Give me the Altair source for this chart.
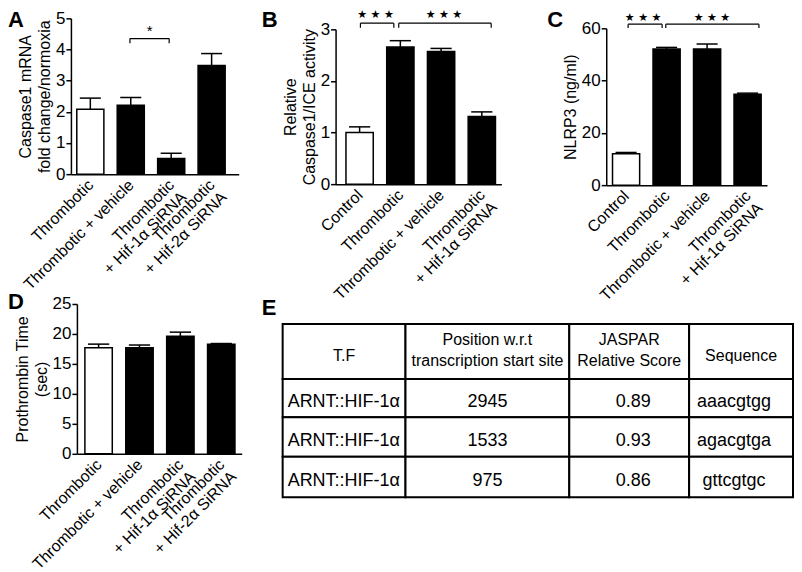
import json
import altair as alt
import pandas as pd

FONT = "Liberation Sans"

# ---------------- data ----------------
a_cats = ["Thrombotic", "Thrombotic + vehicle", "Thrombotic\n+ Hif-1α SiRNA", "Thrombotic\n+ Hif-2α SiRNA"]
a_mean = [2.08, 2.21, 0.50, 3.49]
a_sem = [0.36, 0.25, 0.17, 0.38]
a_fill = ["white", "black", "black", "black"]

b_cats = ["Control", "Thrombotic", "Thrombotic + vehicle", "Thrombotic\n+ Hif-1α SiRNA"]
b_mean = [1.00, 2.66, 2.57, 1.31]
b_sem = [0.11, 0.12, 0.06, 0.09]
b_fill = ["white", "black", "black", "black"]

c_cats = ["Control", "Thrombotic", "Thrombotic + vehicle", "Thrombotic\n+ Hif-1α SiRNA"]
c_mean = [12.0, 52.1, 52.1, 34.8]
c_sem = [0.5, 0.6, 1.9, 0.4]
c_fill = ["white", "black", "black", "black"]

d_cats = ["Thrombotic", "Thrombotic + vehicle", "Thrombotic\n+ Hif-1α SiRNA", "Thrombotic\n+ Hif-2α SiRNA"]
d_mean = [17.7, 17.7, 19.6, 18.3]
d_sem = [0.6, 0.45, 0.7, 0.1]
d_fill = ["white", "black", "black", "black"]

# significance brackets (bar-index units on x, data units on y)
a_sig = {"from": [0.98], "to": [1.95], "level": [4.35], "foot": [4.2],
         "sx": [1.47], "sy": [4.6], "label": ["*"]}
b_sig = {"from": [0.02, 0.96], "to": [0.84, 3.23], "level": [3.12, 3.12], "foot": [3.03, 3.03],
         "sx": [0.39, 2.07], "sy": [3.27, 3.27], "label": ["★ ★ ★", "★ ★ ★"]}
c_sig = {"from": [0.05, 0.98], "to": [0.89, 3.28], "level": [61.6, 61.6], "foot": [60.1, 60.1],
         "sx": [0.42, 2.12], "sy": [63.8, 63.8], "label": ["★ ★ ★", "★ ★ ★"]}
no_sig = {"from": [], "to": [], "level": [], "foot": [], "sx": [], "sy": [], "label": []}

# table E
tbl_header = ["T.F", "Position w.r.t\ntranscription start site", "JASPAR\nRelative Score", "Sequence"]
tbl_tf = ["ARNT::HIF-1α", "ARNT::HIF-1α", "ARNT::HIF-1α"]
tbl_pos = [2945, 1533, 975]
tbl_score = [0.89, 0.93, 0.86]
tbl_seq = ["aaacgtgg", "agacgtga", "gttcgtgc"]

# ---------------- layout constants ----------------
TBL_COL_W = [123, 164, 120, 104]
TBL_ROW_H = [55, 38.5, 39.5, 40.5]
TBL_TEXT_DX = [5, 0, 4, -7]
TBL_TOP = 20


def letter_layer(letter, xy):
    return alt.Chart(pd.DataFrame({"t": [letter]})).mark_text(
        font=FONT, fontSize=22, fontWeight="bold", align="left", baseline="top",
        color="black").encode(text="t:N", x=alt.value(xy[0]), y=alt.value(xy[1]))


def bar_panel(letter, cats, mean, sem, fill, ydom, yvals, ytitle, xdom, w, h, sig,
              star_font, star_size, letter_xy, top_off=0, left_off=0):
    n = len(cats)
    df = pd.DataFrame({"i": list(range(n)), "mean": mean, "sem": sem, "fill": fill})
    lab = json.dumps([c.replace("\n", "|") for c in cats], ensure_ascii=False)
    label_expr = "split(" + lab + "[datum.value], '|')"
    xs = alt.Scale(domain=xdom, nice=False, zero=False, range=[left_off, left_off + w])
    ys = alt.Scale(domain=ydom, nice=False, zero=True, range=[top_off + h, top_off])
    xaxis = alt.Axis(values=list(range(n)), labelExpr=label_expr, ticks=False, grid=False,
                     labelAngle=315, labelAlign="right", labelBaseline="middle",
                     labelPadding=8, labelFontSize=16, labelFont=FONT, labelColor="black",
                     labelOverlap=False, labelFlush=False, labelBound=False,
                     labelLineHeight=17, domainColor="black", domainWidth=1.5, title=None)
    ykw = dict(values=yvals, tickCount=len(yvals), grid=False, ticks=True, tickSize=5,
               tickWidth=1.5, tickColor="black", domainColor="black", domainWidth=1.5,
               labelFontSize=17, labelFont=FONT, labelColor="black", labelPadding=1,
               labelOverlap=False, labelFlush=False,
               title=ytitle, titleFont=FONT, titleFontSize=16, titleFontWeight="normal",
               titleColor="black", titlePadding=3, titleLineHeight=19)
    if left_off:
        ykw["offset"] = -left_off
    yaxis = alt.Axis(**ykw)

    def X(f):
        return alt.X(f, scale=xs, axis=xaxis)

    def Y(f):
        return alt.Y(f, scale=ys, axis=yaxis)

    base = alt.Chart(df).transform_calculate(
        lo="datum.i - 0.335", hi="datum.i + 0.335", top="datum.mean + datum.sem",
        clo="datum.i - 0.26", chi="datum.i + 0.26")
    bars = base.mark_rect(stroke="black", strokeWidth=1.5).encode(
        x=X("lo:Q"), x2="hi:Q", y=Y("mean:Q"), y2=alt.datum(0),
        fill=alt.Fill("fill:N", scale=None))
    stem = base.mark_rule(color="black", strokeWidth=1.5).encode(
        x=X("i:Q"), y=Y("mean:Q"), y2="top:Q")
    cap = base.mark_rule(color="black", strokeWidth=1.5).encode(
        x=X("clo:Q"), x2="chi:Q", y=Y("top:Q"))
    sb = alt.Chart(pd.DataFrame(sig))
    hline = sb.mark_rule(color="black", strokeWidth=1.2).encode(
        x=X("from:Q"), x2="to:Q", y=Y("level:Q"))
    lt = sb.mark_rule(color="black", strokeWidth=1.2).encode(
        x=X("from:Q"), y=Y("level:Q"), y2="foot:Q")
    rt = sb.mark_rule(color="black", strokeWidth=1.2).encode(
        x=X("to:Q"), y=Y("level:Q"), y2="foot:Q")
    stars = sb.mark_text(font=star_font, fontSize=star_size, baseline="middle",
                         color="black").encode(x=X("sx:Q"), y=Y("sy:Q"), text="label:N")
    let = letter_layer(letter, letter_xy)
    return alt.layer(bars, stem, cap, hline, lt, rt, stars, let).properties(
        width=w + left_off, height=h + top_off)


A = bar_panel("A", a_cats, a_mean, a_sem, a_fill, [0, 5], [0, 1, 2, 3, 4, 5],
              ["Caspase1 mRNA", "fold change/normoxia"], [-0.48, 3.67], 168, 156,
              a_sig, FONT, 15, (-63, -8))
B = bar_panel("B", b_cats, b_mean, b_sem, b_fill, [0, 3], [0, 1, 2, 3],
              ["Relative", "Caspase1/ICE activity"], [-0.59, 3.48], 166, 155,
              b_sig, "DejaVu Sans", 11, (-74, -8), top_off=11)
C = bar_panel("C", c_cats, c_mean, c_sem, c_fill, [0, 60], [0, 20, 40, 60],
              "NLRP3 (ng/ml)", [-0.49, 3.48], 161, 157,
              c_sig, "DejaVu Sans", 11, (-59, -8), top_off=10)
D = bar_panel("D", d_cats, d_mean, d_sem, d_fill, [0, 25], [0, 5, 10, 15, 20, 25],
              ["Prothrombin Time", "(sec)"], [-0.53, 3.5], 165, 150,
              no_sig, FONT, 12, (-63, -12), left_off=6)

# ---- table
xe = [0]
for cw in TBL_COL_W:
    xe.append(xe[-1] + cw)
ye = [0]
for rh in TBL_ROW_H:
    ye.append(ye[-1] + rh)
TW, TH = xe[-1], ye[-1]
rows = [tbl_header] + [[tbl_tf[k], str(tbl_pos[k]), f"{tbl_score[k]:.2f}", tbl_seq[k]]
                       for k in range(len(tbl_tf))]
cells = []
for r, row in enumerate(rows):
    for c, txt in enumerate(row):
        x0, x1, y0, y1 = xe[c], xe[c + 1], ye[r], ye[r + 1]
        if r == 0:
            kind = "head2" if "\n" in txt else "head1"
            tx = (x0 + x1) / 2
            ty = y0 + (16.5 if kind == "head2" else 32.5)
        elif c == 0:
            kind = "left"
            tx = x0 + TBL_TEXT_DX[c]
            ty = (y0 + y1) / 2 + 4
        else:
            kind = "center"
            tx = (x0 + x1) / 2 + TBL_TEXT_DX[c]
            ty = (y0 + y1) / 2 + 4
        cells.append(dict(x0=x0, x1=x1, y0=y0, y1=y1, tx=tx, ty=ty, txt=txt, kind=kind))
cdf = pd.DataFrame(cells)
txs = alt.Scale(domain=[0, TW], nice=False, zero=False, range=[0, TW])
tys = alt.Scale(domain=[0, TH], nice=False, zero=False, range=[TBL_TOP, TBL_TOP + TH])
tb = alt.Chart(cdf)
rects = tb.mark_rect(fill="white", stroke="black", strokeWidth=2).encode(
    x=alt.X("x0:Q", scale=txs, axis=None), x2="x1:Q",
    y=alt.Y("y0:Q", scale=tys, axis=None), y2="y1:Q")


def ttext(kind, size, align, **kw):
    return tb.transform_filter(alt.datum.kind == kind).mark_text(
        font=FONT, fontSize=size, align=align, baseline="middle", color="black", **kw).encode(
        x=alt.X("tx:Q", scale=txs, axis=None), y=alt.Y("ty:Q", scale=tys, axis=None),
        text="txt:N")


h1 = ttext("head1", 16, "center")
h2 = ttext("head2", 16, "center", lineBreak="\n", lineHeight=21)
tl = ttext("left", 18, "left")
tc = ttext("center", 18, "center")
E = alt.layer(rects, h1, h2, tl, tc, letter_layer("E", (-21, TBL_TOP - 26))).properties(
    width=TW, height=TH + TBL_TOP)

row1 = alt.hconcat(alt.hconcat(A, B, spacing=23), C, spacing=46)
row2 = alt.hconcat(D, E, spacing=20)
chart = alt.vconcat(row1, row2, spacing=-20).properties(
    padding={"left": 0, "top": 1, "right": 0, "bottom": 0}).configure_view(stroke=None)

chart.save("out.html", embed_options={"renderer": "svg", "actions": False})
